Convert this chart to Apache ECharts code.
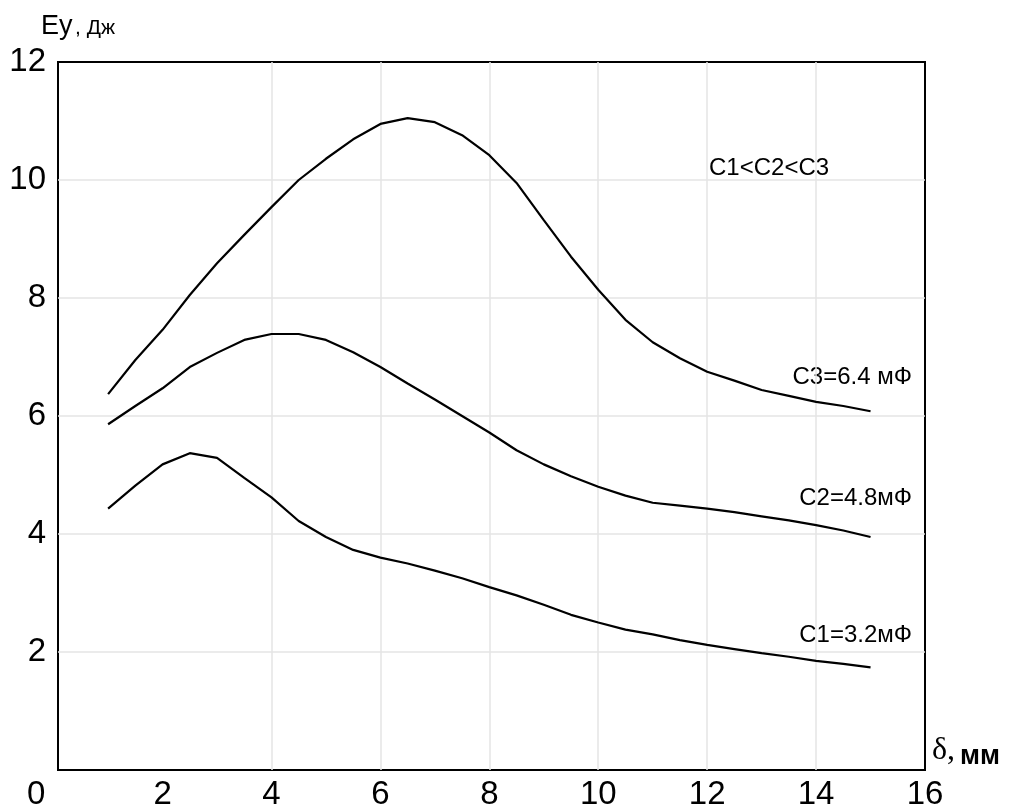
<!DOCTYPE html>
<html>
<head>
<meta charset="utf-8">
<title>Ey(δ)</title>
<script src="https://cdn.jsdelivr.net/npm/echarts@6.0.0/dist/echarts.min.js"></script>
<style>
  html, body { margin: 0; padding: 0; background: #fff; }
  #chart { width: 1012px; height: 812px; }
</style>
</head>
<body>
<div id="chart"></div>
<script>
// Gap width δ, mm
const delta = [1, 1.5, 2, 2.5, 3, 3.5, 4, 4.5, 5, 5.5, 6, 6.5, 7, 7.5, 8,
               8.5, 9, 9.5, 10, 10.5, 11, 11.5, 12, 12.5, 13, 13.5, 14, 14.5, 15];

// Energy Ey, J, for each capacitance
const c1 = [4.43, 4.82, 5.18, 5.37, 5.29, 4.95, 4.62, 4.22, 3.95, 3.73, 3.60, 3.50, 3.38, 3.25, 3.10,
            2.96, 2.80, 2.63, 2.50, 2.38, 2.30, 2.20, 2.12, 2.05, 1.98, 1.92, 1.85, 1.80, 1.74];
const c2 = [5.86, 6.17, 6.47, 6.83, 7.07, 7.29, 7.39, 7.39, 7.29, 7.08, 6.83, 6.55, 6.28, 6.00, 5.72,
            5.42, 5.18, 4.98, 4.80, 4.65, 4.53, 4.48, 4.43, 4.37, 4.30, 4.23, 4.15, 4.06, 3.95];
const c3 = [6.37, 6.95, 7.46, 8.05, 8.59, 9.07, 9.54, 10.00, 10.36, 10.69, 10.95, 11.05, 10.98, 10.76, 10.42,
            9.95, 9.32, 8.70, 8.14, 7.63, 7.25, 6.98, 6.75, 6.60, 6.44, 6.34, 6.24, 6.17, 6.08];

const xTicks = [2, 4, 6, 8, 10, 12, 14, 16];
const seriesNames = ['C1=3.2мФ', 'C2=4.8мФ', 'C3=6.4 мФ'];

const FONT = '"Liberation Sans", Arial, sans-serif';

function pairs(ys) { return delta.map((d, i) => [d, ys[i]]); }

function lineSeries(name, ys) {
  return {
    name: name,
    type: 'line',
    data: pairs(ys),
    symbol: 'none',
    smooth: false,
    lineStyle: { color: '#000', width: 2.2 },
    silent: true,
    z: 5
  };
}

const chart = echarts.init(document.getElementById('chart'), null, { renderer: 'canvas' });

const gridLine = { show: true, showMinLine: false, showMaxLine: false,
                   lineStyle: { color: '#e4e4e4', width: 1.5 } };

chart.setOption({
  backgroundColor: '#fff',
  animation: false,
  grid: {
    left: 58, right: 87, top: 62, bottom: 42,
    show: true, borderColor: '#000', borderWidth: 2, backgroundColor: 'transparent'
  },
  xAxis: {
    type: 'value',
    min: 0.08, max: 16,
    axisLine: { show: false },
    axisTick: { show: false, customValues: xTicks },
    splitLine: gridLine,
    axisLabel: {
      customValues: xTicks,
      color: '#000', fontSize: 33, fontFamily: FONT, margin: 8
    }
  },
  yAxis: {
    type: 'value',
    min: 0, max: 12, interval: 2,
    axisLine: { show: false },
    axisTick: { show: false },
    splitLine: gridLine,
    axisLabel: {
      color: '#000', fontSize: 33, fontFamily: FONT, margin: 12,
      formatter: v => (v === 0 ? '' : String(v))
    }
  },
  series: [
    lineSeries(seriesNames[0], c1),
    lineSeries(seriesNames[1], c2),
    lineSeries(seriesNames[2], c3)
  ],
  graphic: [
    // origin label
    { type: 'text', left: 27, top: 778,
      style: { text: '0', fill: '#000', font: '33px ' + FONT } },
    // y axis title
    { type: 'text', x: 41, y: 27,
      style: { text: 'Ey', fill: '#000', font: '27px ' + FONT, verticalAlign: 'middle', align: 'left' } },
    { type: 'text', x: 75, y: 28,
      style: { text: ', Дж', fill: '#000', font: '21px ' + FONT, verticalAlign: 'middle', align: 'left' } },
    // x axis title
    { type: 'text', x: 932, y: 751,
      style: { text: 'δ,', fill: '#000', font: '32px "Liberation Serif", "Times New Roman", serif', verticalAlign: 'middle', align: 'left' } },
    { type: 'text', x: 960, y: 757,
      style: { text: 'мм', fill: '#000', font: 'bold 27px ' + FONT, verticalAlign: 'middle', align: 'left' } },
    // annotations
    { type: 'text', x: 709, y: 168,
      style: { text: 'C1<C2<C3', fill: '#000', font: '24px ' + FONT, verticalAlign: 'middle', align: 'left' } },
    { type: 'text', x: 912, y: 377,
      style: { text: seriesNames[2], fill: '#000', font: '24px ' + FONT, verticalAlign: 'middle', align: 'right' } },
    { type: 'text', x: 912, y: 498,
      style: { text: seriesNames[1], fill: '#000', font: '24px ' + FONT, verticalAlign: 'middle', align: 'right' } },
    { type: 'text', x: 912, y: 635,
      style: { text: seriesNames[0], fill: '#000', font: '24px ' + FONT, verticalAlign: 'middle', align: 'right' } }
  ]
});
</script>
</body>
</html>
